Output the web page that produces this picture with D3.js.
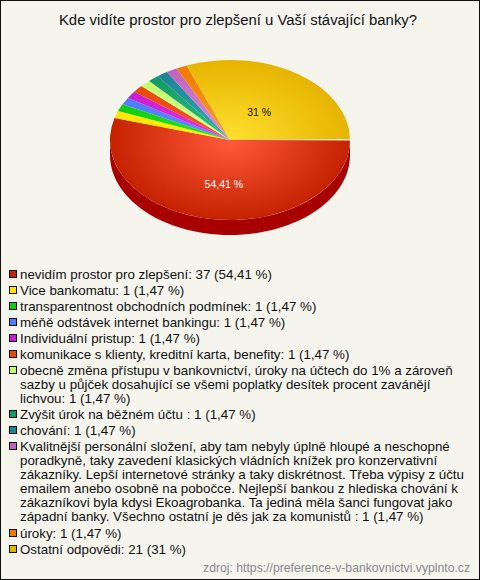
<!DOCTYPE html>
<html><head><meta charset="utf-8">
<script src="https://cdn.jsdelivr.net/npm/d3@7"></script>
<style>html,body{margin:0;padding:0;background:#f5f5ee;overflow:hidden}text{font-family:"Liberation Sans",Arial,sans-serif}</style>
</head><body><div id="c"></div>
<script>
const title = "Kde vidíte prostor pro zlepšení u Vaší stávající banky?";
const source = "zdroj: https://preference-v-bankovnictvi.vyplnto.cz";
const categories = [
 "nevidím prostor pro zlepšení",
 "Vice bankomatu",
 "transparentnost obchodních podmínek",
 "méňě odstávek internet bankingu",
 "Individuální pristup",
 "komunikace s klienty, kreditní karta, benefity",
 "obecně změna přístupu v bankovnictví, úroky na účtech do 1% a zároveň\nsazby u půjček dosahující se všemi poplatky desítek procent zavánějí\nlichvou",
 "Zvýšit úrok na běžném účtu ",
 "chování",
 "Kvalitnější personální složení, aby tam nebyly úplně hloupé a neschopné\nporadkyně, taky zavedení klasických vládních knížek pro konzervativní\nzákazníky. Lepší internetové stránky a taky diskrétnost. Třeba výpisy z účtu\nemailem anebo osobně na pobočce. Nejlepší bankou z hlediska chování k\nzákazníkovi byla kdysi Ekoagrobanka. Ta jediná měla šanci fungovat jako\nzápadní banky. Všechno ostatní je děs jak za komunistů ",
 "úroky",
 "Ostatní odpovědi"
];
const counts = [37,1,1,1,1,1,1,1,1,1,1,21];
const percentLabels = ["54,41","1,47","1,47","1,47","1,47","1,47","1,47","1,47","1,47","1,47","1,47","31"];
const swatchColors = ["#c42200","#ffe600","#11cc11","#4f7cff","#c81ed2","#e84a0a","#c0ff70","#129a62","#1d8296","#bf62bd","#ee7c00","#e6b400"];
const centerColors = ["#ff5a3c","#fff200","#22ee22","#5f8cff","#f030f0","#ff5020","#d8ff90","#30c080","#30b0b0","#e090e0","#ff9a20","#ffe030"];

const W=480,H=580,cx=230,cy=140,rx=120,ry=80,depth=15;
const svg=d3.select("#c").append("svg").attr("width",W).attr("height",H).style("display","block");
svg.append("rect").attr("width",W).attr("height",H).attr("fill","#f5f5ee");
svg.append("rect").attr("x",0.5).attr("y",0.5).attr("width",W-1).attr("height",H-1).attr("fill","none").attr("stroke","#111");

svg.append("text").attr("x",238).attr("y",25).attr("text-anchor","middle").attr("font-size",14.9).attr("fill","#111").text(title);

const arcs=d3.pie().sort(null).value(d=>d).startAngle(Math.PI/2).endAngle(Math.PI*2.5)(counts);
const defs=svg.append("defs");
arcs.forEach((a,i)=>{
  const g=defs.append("radialGradient").attr("id","g"+i).attr("gradientUnits","userSpaceOnUse").attr("cx",0).attr("cy",0).attr("r",rx);
  g.append("stop").attr("offset","0%").attr("stop-color",centerColors[i]);
  g.append("stop").attr("offset","100%").attr("stop-color",swatchColors[i]);
});
const ang=t=>[cx+rx*Math.sin(t),cy-ry*Math.cos(t)];
arcs.forEach((a,i)=>{
  const s=Math.max(a.startAngle,Math.PI/2),e=Math.min(a.endAngle,Math.PI*1.5);
  if(e<=s) return;
  const d=d3.path();
  const n=60,top=[],bot=[];
  for(let k=0;k<=n;k++){const t=s+(e-s)*k/n,pt=ang(t);top.push(pt);bot.push([pt[0],pt[1]+depth]);}
  d.moveTo(top[0][0],top[0][1]);
  top.forEach(pt=>d.lineTo(pt[0],pt[1]));
  bot.reverse().forEach(pt=>d.lineTo(pt[0],pt[1]));
  d.closePath();
  svg.append("path").attr("d",d.toString()).attr("fill",i===0?"#a80000":d3.color(swatchColors[i]).darker(0.8));
});
const arc=d3.arc().innerRadius(0).outerRadius(rx);
svg.append("g").attr("transform",`translate(${cx},${cy}) scale(1,${ry/rx})`)
 .selectAll("path").data(arcs).join("path")
 .attr("d",arc).attr("fill",(d,i)=>`url(#g${i})`);
const seam=ang(arcs[0].startAngle);
svg.append("path").attr("d",`M${cx+6},${cy} L${seam[0]},${seam[1]-1} L${seam[0]},${seam[1]+0.6} Z`).attr("fill","#fff").attr("fill-opacity",.9);

const labelK={0:0.55,11:0.43},labelDx={0:3,11:0};
Object.keys(labelK).forEach(k=>{
  const a=arcs[k],m=(a.startAngle+a.endAngle)/2,f=labelK[k];
  svg.append("text").attr("x",cx+rx*f*Math.sin(m)+labelDx[k]).attr("y",cy-ry*f*Math.cos(m)+4)
   .attr("text-anchor","middle").attr("font-size",10.5).attr("fill",+k===0?"#fff":"#111").text(percentLabels[k]+" %");
});

let y=278.5;
categories.forEach((c,i)=>{
  const lines=(c+": "+counts[i]+" ("+percentLabels[i]+" %)").split("\n");
  const yr=Math.round(y);
  svg.append("rect").attr("x",9.5).attr("y",yr-8.5).attr("width",7).attr("height",7).attr("fill",swatchColors[i]).attr("stroke","#111");
  lines.forEach((l,j)=>{
    svg.append("text").attr("x",20).attr("y",yr+j*14).attr("font-size",13.33).attr("fill","#111").style("white-space","pre").text(l);
  });
  y+=(lines.length-1)*14+16.1;
});
svg.append("text").attr("x",470).attr("y",572).attr("text-anchor","end").attr("font-size",12.2).attr("fill","#888").text(source);
</script></body></html>
